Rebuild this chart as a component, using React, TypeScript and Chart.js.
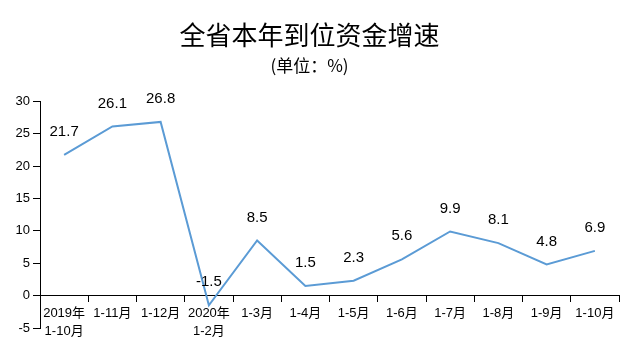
import React, { useEffect, useRef } from "react";
import { Chart, registerables } from "chart.js";

Chart.register(...registerables);

const categories: (string | string[])[] = [
  ["2019年", "1-10月"],
  "1-11月",
  "1-12月",
  ["2020年", "1-2月"],
  "1-3月",
  "1-4月",
  "1-5月",
  "1-6月",
  "1-7月",
  "1-8月",
  "1-9月",
  "1-10月",
];
const growth = [21.7, 26.1, 26.8, -1.5, 8.5, 1.5, 2.3, 5.6, 9.9, 8.1, 4.8, 6.9];
const yMin = -5;
const yMax = 30;
const yStep = 5;
const titleText = "全省本年到位资金增速";
const subtitleText = "(单位：%)";

const LATIN = "'Liberation Sans', 'Noto Sans CJK SC', sans-serif";
const CJK = "'Noto Sans CJK SC', sans-serif";

const labelPlugin = {
  id: "pointLabels",
  afterDatasetsDraw(chart: any) {
    const ctx = chart.ctx;
    const meta = chart.getDatasetMeta(0);
    ctx.save();
    ctx.font = `15px ${LATIN}`;
    ctx.fillStyle = "#000";
    ctx.textAlign = "center";
    ctx.textBaseline = "middle";
    meta.data.forEach((pt: any, i: number) => {
      ctx.fillText(String(growth[i]), pt.x, pt.y - 23);
    });
    ctx.restore();
  },
};

export default function App() {
  const ref = useRef<HTMLCanvasElement>(null);
  useEffect(() => {
    document.body.style.margin = "0";
    if (!ref.current) return;
    const chart = new Chart(ref.current, {
      type: "line",
      data: {
        labels: categories,
        datasets: [
          {
            data: growth,
            borderColor: "#5B9BD5",
            borderWidth: 2,
            pointRadius: 0,
            fill: false,
            tension: 0,
          },
        ],
      },
      plugins: [labelPlugin],
      options: {
        animation: false,
        responsive: false,
        maintainAspectRatio: false,
        layout: { padding: { top: 0, left: 0, right: 17, bottom: 32 } },
        plugins: {
          legend: { display: false },
          tooltip: { enabled: false },
          title: {
            display: true,
            text: titleText,
            color: "#000",
            font: { family: CJK, size: 26, weight: "normal", lineHeight: 1.2 },
            padding: { top: 19.4, bottom: 5 },
          },
          subtitle: {
            display: true,
            text: subtitleText,
            color: "#000",
            font: { family: CJK, size: 17, weight: "normal", lineHeight: 1.2 },
            padding: { top: 0, bottom: 25.2 },
          },
        },
        scales: {
          x: {
            type: "category",
            position: { y: 0 } as any,
            offset: true,
            grid: {
              display: true,
              offset: true,
              drawOnChartArea: false,
              drawTicks: true,
              tickLength: 6,
              color: "#000",
            },
            border: { display: true, color: "#000", width: 1 },
            ticks: {
              color: "#000",
              font: { family: LATIN, size: 13, lineHeight: 1.35 },
              padding: 3,
              maxRotation: 0,
              minRotation: 0,
              autoSkip: false,
            },
          },
          y: {
            min: yMin,
            max: yMax,
            grid: {
              display: true,
              drawOnChartArea: false,
              drawTicks: true,
              tickLength: 7,
              color: "#000",
            },
            border: { display: true, color: "#000", width: 1 },
            ticks: {
              stepSize: yStep,
              color: "#000",
              font: { family: LATIN, size: 13 },
              padding: 3,
            },
            afterFit(scale: any) {
              scale.width = 40;
            },
          },
        },
      },
    });
    return () => chart.destroy();
  }, []);
  return (
    <div style={{ width: 636, height: 360 }}>
      <canvas ref={ref} width={636} height={360} style={{ display: "block" }} />
    </div>
  );
}
